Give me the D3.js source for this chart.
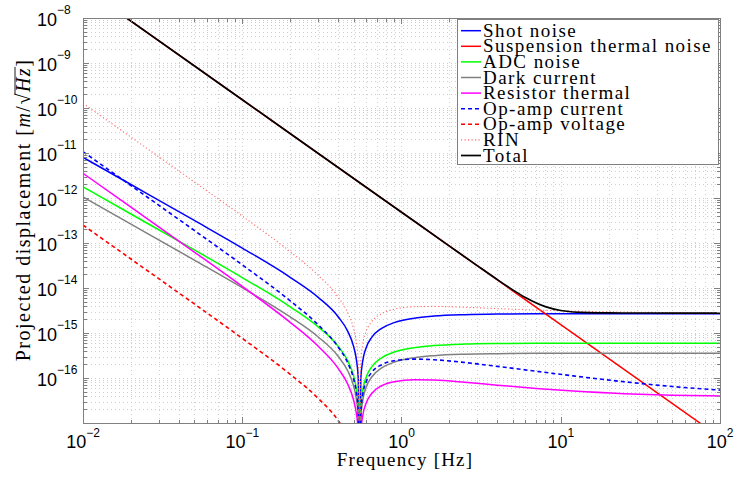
<!DOCTYPE html>
<html>
<head>
<meta charset="utf-8">
<script src="https://cdn.jsdelivr.net/npm/d3@7"></script>
<style>
body { margin: 0; background: #fff; }
svg { display: block; }
.sans { font-family: 'Liberation Sans', Arimo, Arial, Helvetica, sans-serif; }
.serif { font-family: 'Liberation Serif', Tinos, 'Times New Roman', 'DejaVu Serif', serif; }
</style>
</head>
<body>
<div id="chart"></div>
<script>
// values (Hz, m/sqrt(Hz))
const freq = [0.01, 0.02, 0.05, 0.1, 0.2, 0.3, 0.4, 0.46, 0.5, 0.52, 0.535, 0.545, 0.555, 0.57, 0.6, 0.65, 0.75, 0.9, 1.2, 1.6, 2.5, 4, 7, 12, 25, 50, 100];

const shotNoise = [7.99e-12, 1.995e-12, 3.17e-13, 7.72e-14, 1.728e-14, 6.19e-15, 2.30e-15, 1.086e-15, 5.06e-16, 2.65e-16, 1.01e-16, 1e-19, 9.6e-17, 2.31e-16, 4.71e-16, 7.99e-16, 1.27e-15, 1.70e-15, 2.135e-15, 2.38e-15, 2.56e-15, 2.64e-15, 2.67e-15, 2.684e-15, 2.69e-15, 2.69e-15, 2.69e-15];
const adcNoise = [1.767e-12, 4.41e-13, 7.01e-14, 1.708e-14, 3.82e-15, 1.369e-15, 5.09e-16, 2.40e-16, 1.119e-16, 5.85e-17, 2.24e-17, 1e-19, 2.13e-17, 5.11e-17, 1.041e-16, 1.767e-16, 2.81e-16, 3.77e-16, 4.72e-16, 5.26e-16, 5.67e-16, 5.84e-16, 5.91e-16, 5.94e-16, 5.95e-16, 5.95e-16, 5.95e-16];
const darkCurrent = [1.054e-12, 2.63e-13, 4.18e-14, 1.019e-14, 2.28e-15, 8.17e-16, 3.04e-16, 1.433e-16, 6.67e-17, 3.49e-17, 1.335e-17, 1e-19, 1.271e-17, 3.05e-17, 6.21e-17, 1.054e-16, 1.676e-16, 2.25e-16, 2.82e-16, 3.14e-16, 3.38e-16, 3.48e-16, 3.53e-16, 3.54e-16, 3.55e-16, 3.55e-16, 3.55e-16];
const resistorThermal = [3.535e-12, 6.246e-13, 6.285e-14, 1.085e-14, 1.727e-15, 5.07e-16, 1.643e-16, 7.24e-17, 3.24e-17, 1.666e-17, 6.28e-18, 1e-19, 5.88e-18, 1.393e-17, 2.77e-17, 4.53e-17, 6.73e-17, 8.30e-17, 9.13e-17, 8.97e-17, 8.03e-17, 6.93e-17, 5.85e-17, 5.11e-17, 4.48e-17, 4.15e-17, 3.98e-17];
const opampCurrent = [1.0706e-11, 1.890e-12, 1.900e-13, 3.274e-14, 5.186e-15, 1.517e-15, 4.892e-16, 2.152e-16, 9.62e-17, 4.94e-17, 1.86e-17, 1e-19, 1.738e-17, 4.12e-17, 8.18e-17, 1.334e-16, 1.974e-16, 2.42e-16, 2.632e-16, 2.544e-16, 2.205e-16, 1.812e-16, 1.412e-16, 1.113e-16, 8.25e-17, 6.48e-17, 5.39e-17];
const opampVoltage = [2.494e-13, 4.404e-14, 4.425e-15, 7.62e-16, 1.207e-16, 3.527e-17, 1.137e-17, 5.0e-18, 2.23e-18, 1.15e-18, 4.3e-19, 1e-19, 4.0e-19, 9.6e-19, 1.9e-18, 3.09e-18, 4.58e-18, 5.6e-18, 6.09e-18, 5.87e-18, 5.06e-18, 4.12e-18, 3.16e-18, 2.42e-18, 1.68e-18, 1.19e-18, 8.4e-19];
const rinNoise = [1.2729e-10, 2.253e-11, 2.278e-12, 3.966e-13, 6.409e-14, 1.911e-14, 6.28e-15, 2.79e-15, 1.2555e-15, 6.47e-16, 2.443e-16, 1e-19, 2.292e-16, 5.44e-16, 1.086e-15, 1.786e-15, 2.687e-15, 3.371e-15, 3.827e-15, 3.898e-15, 3.728e-15, 3.48e-15, 3.238e-15, 3.08e-15, 2.92e-15, 2.85e-15, 2.8e-15];

const suspFreq = [0.01, 0.1, 1, 10, 100];
const suspThermal = [4.83e-8, 1.527e-10, 4.83e-13, 1.527e-15, 4.83e-18];

const totalFreq = [0.01, 0.1, 1, 2, 3, 4, 5, 6, 8, 10, 15, 20, 30, 50, 100];
const totalNoise = [4.83e-8, 1.527e-10, 4.83e-13, 8.544e-14, 3.11e-14, 1.534e-14, 9.07e-15, 6.13e-15, 3.845e-15, 3.166e-15, 2.831e-15, 2.791e-15, 2.781e-15, 2.779e-15, 2.778e-15];

const legendLabels = ['Shot noise', 'Suspension thermal noise', 'ADC noise', 'Dark current', 'Resistor thermal', 'Op-amp current', 'Op-amp voltage', 'RIN', 'Total'];
const xTickExp = [-2, -1, 0, 1, 2];
const yTickExp = [-8, -9, -10, -11, -12, -13, -14, -15, -16];

// series table, drawn in legend order
const series = [
    {f: freq, v: shotNoise, color: '#0000ff', dash: null, w: 1.5},
    {f: suspFreq, v: suspThermal, color: '#ff0000', dash: null, w: 1.5},
    {f: freq, v: adcNoise, color: '#00ff00', dash: null, w: 1.5},
    {f: freq, v: darkCurrent, color: '#808080', dash: null, w: 1.5},
    {f: freq, v: resistorThermal, color: '#ff00ff', dash: null, w: 1.5},
    {f: freq, v: opampCurrent, color: '#0000ff', dash: '4,3', w: 1.6},
    {f: freq, v: opampVoltage, color: '#ff0000', dash: '4,3', w: 1.6},
    {f: freq, v: rinNoise, color: '#ff6a6a', dash: '1.2,2.3', w: 1.1},
    {f: totalFreq, v: totalNoise, color: '#000000', dash: null, w: 1.7}
];
series.forEach((s, i) => s.label = legendLabels[i]);

const width = 736, height = 477;
const pLeft = 83, pRight = 720, pTop = 18, pBottom = 423;
const axisColor = '#808080';

const svg = d3.select('#chart').append('svg')
    .attr('width', width)
    .attr('height', height);

const x = d3.scaleLog().domain([1e-2, 1e2]).range([pLeft, pRight]);
const y = d3.scaleLog().domain([1e-17, 1e-8]).range([pBottom, pTop]);

// tick positions: 1..9 x 10^n
const xTicks = [];
for (let e = -2; e < 2; e++) for (let k = 1; k < 10; k++) xTicks.push(k * Math.pow(10, e));
xTicks.push(100);
const yTicks = [];
for (let e = -17; e < -8; e++) for (let k = 1; k < 10; k++) yTicks.push(k * Math.pow(10, e));
yTicks.push(1e-8);
const isMajor = v => Math.abs(Math.log10(v) - Math.round(Math.log10(v))) < 1e-9;

// grid
const grid = svg.append('g')
    .attr('stroke', '#cfcfcf')
    .attr('stroke-width', 1)
    .attr('stroke-dasharray', '1,3')
    .attr('shape-rendering', 'crispEdges');
grid.selectAll('.gx')
    .data(xTicks.filter(d => d > 1.0001e-2 && d < 0.9999e2))
    .enter().append('line')
    .attr('x1', d => Math.round(x(d)) + 0.5).attr('x2', d => Math.round(x(d)) + 0.5)
    .attr('y1', pTop).attr('y2', pBottom);
grid.selectAll('.gy')
    .data(yTicks.filter(d => d > 1.0001e-17 && d < 0.9999e-8))
    .enter().append('line')
    .attr('y1', d => Math.round(y(d)) + 0.5).attr('y2', d => Math.round(y(d)) + 0.5)
    .attr('x1', pLeft).attr('x2', pRight);

// curves
svg.append('clipPath').attr('id', 'plotClip')
    .append('rect')
    .attr('x', pLeft).attr('y', pTop)
    .attr('width', pRight - pLeft).attr('height', pBottom - pTop);

const line = d3.line()
    .x(d => x(d[0]))
    .y(d => y(d[1]))
    .curve(d3.curveMonotoneX);

const curves = svg.append('g').attr('clip-path', 'url(#plotClip)');
curves.selectAll('path')
    .data(series)
    .enter().append('path')
    .attr('d', s => line(s.f.map((f, i) => [f, s.v[i]])))
    .attr('fill', 'none')
    .attr('stroke', s => s.color)
    .attr('stroke-width', s => s.w)
    .attr('stroke-dasharray', s => s.dash);

// frame + inward ticks on all sides
const frame = svg.append('g')
    .attr('stroke', axisColor)
    .attr('stroke-width', 1)
    .attr('shape-rendering', 'crispEdges');
frame.append('rect')
    .attr('x', pLeft + 0.5).attr('y', pTop + 0.5)
    .attr('width', pRight - pLeft).attr('height', pBottom - pTop)
    .attr('fill', 'none');
xTicks.forEach(d => {
    const len = isMajor(d) ? 6 : 3.5;
    const px = Math.round(x(d)) + 0.5;
    frame.append('line').attr('x1', px).attr('x2', px).attr('y1', pBottom).attr('y2', pBottom - len);
    frame.append('line').attr('x1', px).attr('x2', px).attr('y1', pTop).attr('y2', pTop + len);
});
yTicks.forEach(d => {
    const len = isMajor(d) ? 6 : 3.5;
    const py = Math.round(y(d)) + 0.5;
    frame.append('line').attr('y1', py).attr('y2', py).attr('x1', pLeft).attr('x2', pLeft + len);
    frame.append('line').attr('y1', py).attr('y2', py).attr('x1', pRight).attr('x2', pRight - len);
});

// tick labels
xTickExp.forEach(e => {
    const t = svg.append('text')
        .attr('class', 'sans')
        .attr('x', x(Math.pow(10, e)))
        .attr('y', 448)
        .attr('text-anchor', 'middle')
        .attr('font-size', 18)
        .attr('fill', '#000');
    t.append('tspan').text('10');
    t.append('tspan').attr('font-size', 12).attr('dy', -11).text(e < 0 ? '\u2212' + (-e) : e);
});
yTickExp.forEach(e => {
    const t = svg.append('text')
        .attr('class', 'sans')
        .attr('x', 37)
        .attr('y', y(Math.pow(10, e)) + 8)
        .attr('font-size', 18)
        .attr('fill', '#000');
    t.append('tspan').text('10');
    t.append('tspan').attr('font-size', 12).attr('dy', -12).text('\u2212' + (-e));
});

// axis labels
svg.append('text')
    .attr('class', 'serif')
    .attr('x', 405)
    .attr('y', 466)
    .attr('text-anchor', 'middle')
    .attr('font-size', 19)
    .attr('letter-spacing', 1.2)
    .text('Frequency [Hz]');

const yl = svg.append('g').attr('transform', 'translate(30,210) rotate(-90)');
const ylText = yl.append('text')
    .attr('class', 'serif')
    .attr('text-anchor', 'middle')
    .attr('font-size', 20)
    .attr('letter-spacing', 1.5);
ylText.append('tspan').text('Projected displacement [');
ylText.append('tspan').attr('font-style', 'italic').text('m');
ylText.append('tspan').text('/\u221A');
ylText.append('tspan').attr('font-style', 'italic').text('Hz');
ylText.append('tspan').text(']');
// bar over Hz for the square root
const full = 'Projected displacement [m/\u221AHz]';
const node = ylText.node();
const iRoot = full.indexOf('\u221A');
const iH = full.indexOf('H');
const bx0 = node.getEndPositionOfChar(iRoot).x - 2;
const bx1 = node.getEndPositionOfChar(iH + 1).x;
yl.append('line')
    .attr('x1', bx0).attr('x2', bx1)
    .attr('y1', -15).attr('y2', -15)
    .attr('stroke', '#000').attr('stroke-width', 0.9);

// legend
const lg = svg.append('g');
lg.append('rect')
    .attr('x', 457.5).attr('y', 19.5)
    .attr('width', 261).attr('height', 145)
    .attr('fill', '#fff')
    .attr('stroke', axisColor)
    .attr('stroke-width', 1);
const rows = lg.selectAll('.row')
    .data(series)
    .enter().append('g')
    .attr('transform', (d, i) => `translate(0,${30.7 + i * 15.6})`);
rows.append('line')
    .attr('x1', 461).attr('x2', 481)
    .attr('y1', 0).attr('y2', 0)
    .attr('stroke', d => d.color)
    .attr('stroke-width', d => d.w)
    .attr('stroke-dasharray', d => d.dash);
rows.append('text')
    .attr('class', 'serif')
    .attr('x', 483)
    .attr('y', 6)
    .attr('font-size', 19)
    .attr('letter-spacing', 1.45)
    .text(d => d.label);
</script>
</body>
</html>
